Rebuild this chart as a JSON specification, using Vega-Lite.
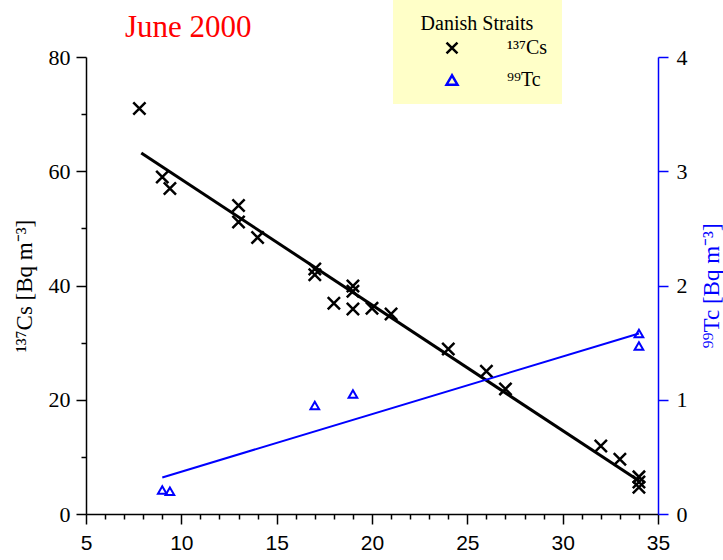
{
  "$schema": "https://vega.github.io/schema/vega-lite/v6.json",
  "width": 572,
  "height": 457,
  "autosize": "none",
  "padding": {"left": 86, "top": 57, "right": 65, "bottom": 46},
  "background": "white",
  "title": {"text": "June 2000", "color": "red", "font": "Liberation Serif", "fontSize": 31, "fontWeight": "normal", "anchor": "start", "frame": "group", "dx": 39, "dy": 60, "offset": 16},
  "config": {
    "view": {"stroke": null},
    "legend": {"orient": "none", "legendX": 307, "legendY": -57,
      "fillColor": "#FFFFC8", "padding": 14, "titleFont": "Liberation Serif", "titleFontSize": 20, "titleFontWeight": "normal", "titleColor": "black", "titleAnchor": "middle", "titlePadding": 4,
      "labelFont": "Liberation Serif", "labelFontSize": 20, "labelColor": "black", "labelOffset": 45,
      "symbolStrokeWidth": 2.5, "symbolSize": 120, "rowPadding": 11, "symbolOffset": 35}
  },
  "encoding": {
    "x": {"field": "x", "type": "quantitative", "scale": {"domain": [5, 35], "nice": false, "zero": false},
      "axis": {"values": [5,6,7,8,9,10,11,12,13,14,15,16,17,18,19,20,21,22,23,24,25,26,27,28,29,30,31,32,33,34,35],
        "labelExpr": "datum.value % 5 === 0 ? datum.label : ''",
        "tickSize": {"condition": {"test": "datum.value % 5 === 0", "value": 10}, "value": 5},
        "grid": false, "title": null, "labelFont": "Liberation Sans", "labelFontSize": 21, "labelColor": "black",
        "domainColor": "black", "tickColor": "black", "domainWidth": 1.5, "tickWidth": 1.5,
        "labelPadding": 8, "labelOverlap": false, "labelFlush": false}}
  },
  "layer": [
    {
      "encoding": {
        "y": {"field": "value", "type": "quantitative", "scale": {"domain": [0, 80], "nice": false},
          "axis": {"orient": "left", "values": [0,10,20,30,40,50,60,70,80],
            "labelExpr": "datum.value % 20 === 0 ? datum.label : ''",
            "tickSize": {"condition": {"test": "datum.value % 20 === 0", "value": 10}, "value": 5},
            "grid": false, "title": "¹³⁷Cs [Bq m⁻³]", "titleFont": "Liberation Serif", "titleFontSize": 23, "titleFontWeight": "normal", "titleColor": "black", "titlePadding": 12,
            "labelFont": "Liberation Serif", "labelFontSize": 22, "labelColor": "black",
            "domainColor": "black", "tickColor": "black", "domainWidth": 1.5, "tickWidth": 1.5,
            "labelPadding": 6, "labelOverlap": false, "labelFlush": false}}
      },
      "layer": [
        {
          "data": {"values": [
            {"x": 7.8, "value": 71, "series": "¹³⁷Cs"},
            {"x": 9.0, "value": 59, "series": "¹³⁷Cs"},
            {"x": 9.4, "value": 57, "series": "¹³⁷Cs"},
            {"x": 13.0, "value": 54, "series": "¹³⁷Cs"},
            {"x": 13.0, "value": 51.1, "series": "¹³⁷Cs"},
            {"x": 14.0, "value": 48.4, "series": "¹³⁷Cs"},
            {"x": 17.0, "value": 42.9, "series": "¹³⁷Cs"},
            {"x": 17.0, "value": 41.9, "series": "¹³⁷Cs"},
            {"x": 18.0, "value": 36.9, "series": "¹³⁷Cs"},
            {"x": 19.0, "value": 39.9, "series": "¹³⁷Cs"},
            {"x": 19.0, "value": 39.0, "series": "¹³⁷Cs"},
            {"x": 19.0, "value": 35.9, "series": "¹³⁷Cs"},
            {"x": 20.0, "value": 36.0, "series": "¹³⁷Cs"},
            {"x": 21.0, "value": 35.0, "series": "¹³⁷Cs"},
            {"x": 24.0, "value": 28.9, "series": "¹³⁷Cs"},
            {"x": 26.0, "value": 25.0, "series": "¹³⁷Cs"},
            {"x": 27.0, "value": 21.9, "series": "¹³⁷Cs"},
            {"x": 32.0, "value": 11.9, "series": "¹³⁷Cs"},
            {"x": 33.0, "value": 9.6, "series": "¹³⁷Cs"},
            {"x": 34.0, "value": 6.5, "series": "¹³⁷Cs"},
            {"x": 34.0, "value": 5.6, "series": "¹³⁷Cs"},
            {"x": 34.0, "value": 4.7, "series": "¹³⁷Cs"}
          ]},
          "mark": {"type": "point", "filled": false, "strokeWidth": 2.5, "size": 150, "opacity": 1},
          "encoding": {
            "shape": {"field": "series", "type": "nominal",
              "scale": {"domain": ["¹³⁷Cs", "⁹⁹Tc"], "range": ["M-1,-1L1,1M-1,1L1,-1", "triangle-up"]},
              "legend": {"title": "Danish Straits"}},
            "color": {"field": "series", "type": "nominal", "scale": {"domain": ["¹³⁷Cs", "⁹⁹Tc"], "range": ["black", "blue"]},
              "legend": {"title": "Danish Straits"}}
          }
        },
        {
          "data": {"values": [{"x": 7.9, "value": 63.2}, {"x": 34.0, "value": 5.8}]},
          "mark": {"type": "line", "color": "black", "strokeWidth": 3},
          "encoding": {}
        }
      ]
    },
    {
      "encoding": {
        "y": {"field": "value", "type": "quantitative", "scale": {"domain": [0, 4], "nice": false},
          "axis": {"orient": "right", "values": [0,0.5,1,1.5,2,2.5,3,3.5,4], "format": "d",
            "labelExpr": "datum.value % 1 === 0 ? datum.label : ''",
            "tickSize": {"condition": {"test": "datum.value % 1 === 0", "value": 10}, "value": 5},
            "grid": false, "title": "⁹⁹Tc [Bq m⁻³]", "titleFont": "Liberation Serif", "titleFontSize": 23, "titleFontWeight": "normal", "titleColor": "blue", "titleAngle": 270, "titlePadding": 36,
            "labelFont": "Liberation Serif", "labelFontSize": 22, "labelColor": "black",
            "domainColor": "blue", "tickColor": "blue", "domainWidth": 1.5, "tickWidth": 1.5,
            "labelPadding": 8, "labelOverlap": false, "labelFlush": false}}
      },
      "layer": [
        {
          "data": {"values": [
            {"x": 9.0, "value": 0.21, "series": "⁹⁹Tc"},
            {"x": 9.4, "value": 0.20, "series": "⁹⁹Tc"},
            {"x": 17.0, "value": 0.95, "series": "⁹⁹Tc"},
            {"x": 19.0, "value": 1.05, "series": "⁹⁹Tc"},
            {"x": 34.0, "value": 1.58, "series": "⁹⁹Tc"},
            {"x": 34.0, "value": 1.47, "series": "⁹⁹Tc"}
          ]},
          "mark": {"type": "point", "filled": false, "strokeWidth": 2, "size": 75, "opacity": 1},
          "encoding": {
            "shape": {"field": "series", "type": "nominal"},
            "color": {"field": "series", "type": "nominal"}
          }
        },
        {
          "data": {"values": [{"x": 9.0, "value": 0.32}, {"x": 34.0, "value": 1.58}]},
          "mark": {"type": "line", "color": "blue", "strokeWidth": 2},
          "encoding": {}
        }
      ]
    }
  ],
  "resolve": {"scale": {"y": "independent"}}
}
